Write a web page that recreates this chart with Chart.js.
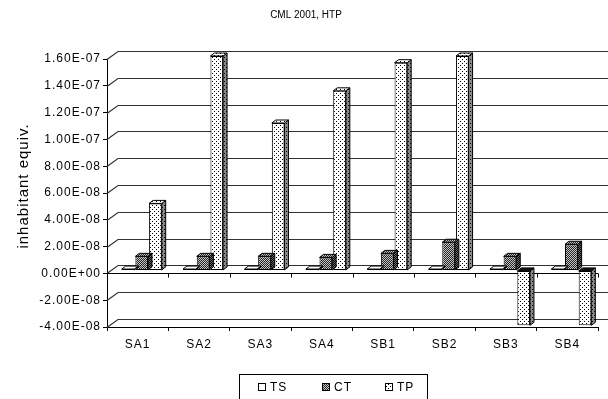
<!DOCTYPE html>
<html>
<head>
<meta charset="utf-8">
<script src="https://cdn.jsdelivr.net/npm/chart.js@4/dist/chart.umd.min.js"></script>
<style>
  html, body { margin: 0; padding: 0; background: #fff; }
  #wrap { width: 608px; height: 399px; }
</style>
</head>
<body>
<div id="wrap"><canvas id="c" width="608" height="399"></canvas></div>
<script>
// Impact categories (HTP, CML 2001) per scenario
const categories = ['SA1', 'SA2', 'SA3', 'SA4', 'SB1', 'SB2', 'SB3', 'SB4'];
const seriesNames = ['TS', 'CT', 'TP'];
const tsValues = [1.0e-9, 1.0e-9, 1.0e-9, 1.0e-9, 1.0e-9, 1.0e-9, 1.0e-9, 1.0e-9];
const ctValues = [1.05e-8, 1.05e-8, 1.05e-8, 0.97e-8, 1.27e-8, 2.1e-8, 1.05e-8, 1.95e-8];
const tpValues = [5.0e-8, 1.6e-7, 1.1e-7, 1.34e-7, 1.55e-7, 1.6e-7, -4.1e-8, -4.1e-8];
const yTickValues = [-4e-8, -2e-8, 0, 2e-8, 4e-8, 6e-8, 8e-8, 1e-7, 1.2e-7, 1.4e-7, 1.6e-7];
const chartTitle = 'CML 2001, HTP';
const yAxisTitle = 'inhabitant equiv.';

const FONT = '"Liberation Sans", Arial, sans-serif';

// 3D look: back wall offset, bar depth and the bars' shift into the floor
const WALL_DX = 11, WALL_DY = -8;
const BAR_DX = 4, BAR_DY = 3;
const SHIFT_X = 4, SHIFT_Y = -3;

const canvas = document.getElementById('c');
const ctx = canvas.getContext('2d');

function pattern(bg, fg, size, dots) {
  const p = document.createElement('canvas');
  p.width = p.height = size;
  const g = p.getContext('2d');
  g.fillStyle = bg;
  g.fillRect(0, 0, size, size);
  g.fillStyle = fg;
  dots.forEach(([x, y]) => g.fillRect(x, y, 1, 1));
  return ctx.createPattern(p, 'repeat');
}

const fills = {
  TS: { front: '#ffffff', side: '#8a8a8a' },
  CT: { front: pattern('#c4c4c4', '#262626', 2, [[0, 0], [1, 1]]),
        side: pattern('#6a6a6a', '#000000', 2, [[0, 0], [1, 1]]) },
  TP: { front: pattern('#ffffff', '#000000', 4, [[0, 0], [2, 2]]),
        side: pattern('#8a8a8a', '#000000', 4, [[0, 0], [2, 2]]) }
};

function sci(v) {
  if (Math.abs(v) < 1e-20) return '0.00E+00';
  const [m, e] = v.toExponential(2).split('e');
  const n = parseInt(e, 10);
  return m + 'E' + (n < 0 ? '-' : '+') + String(Math.abs(n)).padStart(2, '0');
}

const seriesValues = [tsValues, ctValues, tpValues];

// back wall grid, left wall diagonals and the front edge of the floor at zero
const wallPlugin = {
  id: 'wall',
  beforeDatasetsDraw(chart) {
    const c = chart.ctx, a = chart.chartArea, ys = chart.scales.y, xs = chart.scales.x;
    c.save();
    c.strokeStyle = '#333';
    c.lineWidth = 1.2;
    ys.ticks.forEach(t => {
      const py = Math.round(ys.getPixelForValue(t.value)) + 0.5;
      c.beginPath();
      c.moveTo(a.left, py);
      c.lineTo(a.left + WALL_DX, py + WALL_DY);
      c.lineTo(chart.width, py + WALL_DY);
      c.stroke();
    });
    const zy = Math.round(ys.getPixelForValue(0)) + 0.5;
    c.strokeStyle = '#000';
    c.lineWidth = 1;
    c.beginPath();
    c.moveTo(a.left, zy);
    c.lineTo(a.right, zy);
    for (let i = 1; i <= categories.length; i++) {
      const bx = Math.round(xs.getPixelForValue(i - 0.5)) + 0.5;
      c.moveTo(bx, zy);
      c.lineTo(bx, zy + 4);
    }
    c.stroke();
    c.restore();
  }
};

// side and top faces of each bar, with the whole bar pushed back into the chart
const barsPlugin = {
  id: 'bars3d',
  beforeDatasetDraw(chart, args) {
    const c = chart.ctx;
    const f = fills[seriesNames[args.index]];
    c.save();
    c.translate(SHIFT_X, SHIFT_Y);
    args.meta.data.forEach(bar => {
      const { x, y, base, width } = bar.getProps(['x', 'y', 'base', 'width'], true);
      const l = x - width / 2, r = x + width / 2;
      const top = Math.min(y, base), bot = Math.max(y, base);
      c.lineWidth = 1;
      c.strokeStyle = '#000';
      c.beginPath();
      c.moveTo(r, top);
      c.lineTo(r + BAR_DX, top - BAR_DY);
      c.lineTo(r + BAR_DX, bot - BAR_DY);
      c.lineTo(r, bot);
      c.closePath();
      c.fillStyle = f.side;
      c.fill();
      c.stroke();
      c.beginPath();
      c.moveTo(l, top);
      c.lineTo(l + BAR_DX, top - BAR_DY);
      c.lineTo(r + BAR_DX, top - BAR_DY);
      c.lineTo(r, top);
      c.closePath();
      c.fillStyle = y > base ? '#111' : f.front;
      c.fill();
      c.stroke();
    });
  },
  afterDatasetDraw(chart) {
    chart.ctx.restore();
  }
};

// chart title, y axis title and the framed legend
const textPlugin = {
  id: 'texts',
  beforeInit(chart) { chart.ctx.letterSpacing = '1px'; },
  beforeDraw(chart) { chart.ctx.letterSpacing = '1px'; },
  afterDraw(chart) {
    const c = chart.ctx;
    c.save();
    c.fillStyle = '#000';
    c.letterSpacing = '0px';
    c.font = '10px ' + FONT;
    c.textAlign = 'center';
    c.textBaseline = 'middle';
    c.fillText(chartTitle, 306, 15);

    c.letterSpacing = '1px';
    c.save();
    c.translate(23.5, 186);
    c.rotate(-Math.PI / 2);
    c.font = '15px ' + FONT;
    c.fillText(yAxisTitle, 0, 0);
    c.restore();

    c.strokeStyle = '#000';
    c.lineWidth = 1;
    c.strokeRect(239.5, 374.5, 188, 40);
    c.font = '12px ' + FONT;
    c.textAlign = 'left';
    seriesNames.forEach((name, i) => {
      const bx = 258 + i * 63.6;
      c.fillStyle = fills[name].front;
      c.fillRect(Math.round(bx), 383, 8, 8);
      c.strokeRect(Math.round(bx) + 0.5, 383.5, 7, 7);
      c.fillStyle = '#000';
      c.fillText(name, Math.round(bx) + 12, 387.5);
    });
    c.restore();
  }
};

new Chart(canvas, {
  type: 'bar',
  data: {
    labels: categories,
    datasets: seriesNames.map((name, i) => ({
      label: name,
      data: seriesValues[i],
      backgroundColor: fills[name].front,
      borderColor: '#000',
      borderWidth: 1,
      borderSkipped: false,
      clip: false
    }))
  },
  options: {
    responsive: false,
    animation: false,
    devicePixelRatio: 1,
    categoryPercentage: 0.67,
    barPercentage: 0.92,
    layout: { padding: { top: 59, right: 10, bottom: 0, left: 0 } },
    plugins: {
      legend: { display: false },
      title: { display: false },
      tooltip: { enabled: false }
    },
    scales: {
      x: {
        offset: true,
        grid: { drawOnChartArea: false, drawTicks: true, tickLength: 4, color: '#000' },
        border: { display: true, color: '#000', width: 1 },
        ticks: { color: '#000', font: { family: FONT, size: 12 }, padding: 6, maxRotation: 0, autoSkip: false },
        afterFit(s) { s.height = 72; }
      },
      y: {
        min: -4e-8,
        max: 1.6e-7,
        afterBuildTicks(s) { s.ticks = yTickValues.map(v => ({ value: v })); },
        grid: { drawOnChartArea: false, drawTicks: true, tickLength: 4, color: '#000' },
        border: { display: true, color: '#000', width: 1 },
        ticks: { color: '#000', font: { family: FONT, size: 12 }, padding: 2, callback: v => sci(v) },
        afterFit(s) { s.width = 107; }
      }
    }
  },
  plugins: [wallPlugin, barsPlugin, textPlugin]
});
</script>
</body>
</html>
